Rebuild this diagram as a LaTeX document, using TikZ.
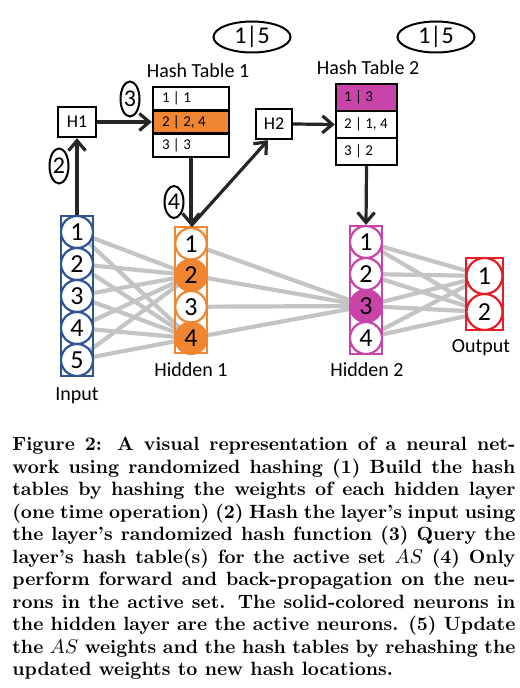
\documentclass[tikz,border=0pt]{standalone}
\usepackage{fontspec}
\newfontfamily\calib{Carlito}
\usetikzlibrary{arrows.meta,shapes.geometric}
\pgfdeclarelayer{bg}\pgfsetlayers{bg,main}
\definecolor{inblue}{RGB}{47,84,150}
\definecolor{hor}{RGB}{240,134,50}
\definecolor{hmag}{RGB}{200,68,168}
\definecolor{ored}{RGB}{232,28,36}
\definecolor{wgray}{RGB}{196,196,196}
\newcommand\capline[1]{\hbox to 251.5pt{#1}}
\newcommand\rowtextA[1]{\makebox[29pt][l]{#1}}
\newcommand\rowtextB[1]{\makebox[22.5pt][l]{#1}}
\begin{document}
\begin{tikzpicture}[x=0.5pt,y=-0.5pt,
  neuron/.style={circle,draw=#1,line width=1.1pt,fill=white,inner sep=0pt,
    font=\calib\fontsize{13}{13}\selectfont},
  layerbox/.style={draw=#1,line width=1.1pt,inner sep=0pt,minimum width=16pt},
  wline/.style={draw=wgray,line width=2.1pt},
  arr/.style={draw=black!85,line width=1.6pt,-{Straight Barb[length=5pt,width=8.5pt]}},
  hashbox/.style={draw,line width=1.2pt,inner sep=0pt,minimum width=19pt,minimum height=15pt,
    font=\calib\fontsize{9}{9}\selectfont},
  row/.style={draw,line width=1.2pt,inner ysep=0pt,
    font=\calib\fontsize{7.5}{7.5}\selectfont},
  rowA/.style={row,inner xsep=4.5pt,minimum height=11.67pt},
  rowB/.style={row,inner xsep=4pt,minimum height=13.5pt},
  stepoval/.style={ellipse,draw,line width=1pt,inner sep=0pt,minimum width=9.5pt,minimum height=17.5pt,
    font=\calib\fontsize{12}{12}\selectfont},
  topoval/.style={ellipse,draw,line width=1pt,inner sep=0pt,minimum width=38.5pt,minimum height=15.5pt,
    font=\calib\fontsize{12}{12}\selectfont},
  lbl/.style={anchor=base,inner sep=0pt,font=\calib\fontsize{10}{10}\selectfont}]
\useasboundingbox (0,0) rectangle (519,688);

% layer boxes
\node[layerbox=inblue,minimum height=80pt] (inbox) at (77,296) {};
\node[layerbox=hor,minimum height=63pt] (h1box) at (191,290) {};
\node[layerbox=hmag,minimum height=64pt] (h2box) at (366,290) {};
\node[layerbox=ored,minimum width=18.5pt,minimum height=36pt] (obox) at (484.5,294) {};

% neurons
\foreach \i/\y in {1/232,2/264,3/296,4/328,5/360}
  \node[neuron=inblue,minimum size=16pt] (i\i) at (77,\y) {\i};
\node[neuron=hor,minimum size=15.75pt] (a1) at (191,243.75) {1};
\node[neuron=hor,fill=hor,minimum size=15.75pt] (a2) at (191,275.25) {2};
\node[neuron=hor,minimum size=15.75pt] (a3) at (191,306.75) {3};
\node[neuron=hor,fill=hor,minimum size=15.75pt] (a4) at (191,338.25) {4};
\node[neuron=hmag,minimum size=16pt] (b1) at (366,242) {1};
\node[neuron=hmag,minimum size=16pt] (b2) at (366,274) {2};
\node[neuron=hmag,fill=hmag,minimum size=16pt] (b3) at (366,306) {3};
\node[neuron=hmag,minimum size=16pt] (b4) at (366,338) {4};
\node[neuron=ored,minimum size=18pt] (o1) at (484.5,276) {1};
\node[neuron=ored,minimum size=18pt] (o2) at (484.5,312) {2};

% weights
\begin{pgfonlayer}{bg}
\foreach \i in {1,...,5}
  \foreach \j in {2,4}
    \draw[wline] (i\i.center) -- (a\j.center);
\foreach \i in {1,...,4}
  \draw[wline] (a\i.center) -- (b3.center);
\foreach \i in {1,...,4}
  \foreach \j in {1,2}
    \draw[wline] (b\i.center) -- (o\j.center);
\end{pgfonlayer}

% labels
\node[lbl] (linput) at (77,400) {Input};
\node[lbl] (lh1) at (191,376) {Hidden 1};
\node[lbl] (lh2) at (367,376) {Hidden 2};
\node[lbl] (lout) at (481,352) {Output};

% hash functions
\node[hashbox] (H1) at (77,122) {H1};
\node[hashbox,minimum width=18pt] (H2) at (274,124) {H2};

% hash tables
\node[lbl] (ht1) at (198,78) {Hash Table 1};
\node[rowA] (t1r1) at (191,98.67) {\rowtextA{1 | 1}};
\node[rowA,fill=hor] (t1r2) at (191,122) {\rowtextA{2 | 2, 4}};
\node[rowA] (t1r3) at (191,145.33) {\rowtextA{3 | 3}};
\node[lbl] (ht2) at (368,75) {Hash Table 2};
\node[rowB,fill=hmag] (t2r1) at (366.5,97.5) {\rowtextB{1 | 3}};
\node[rowB] (t2r2) at (366.5,124.5) {\rowtextB{2 | 1, 4}};
\node[rowB] (t2r3) at (366.5,151.5) {\rowtextB{3 | 2}};

% ovals
\node[topoval] (ov1) at (252,37) {1|5};
\node[topoval] (ov2) at (436,37) {1|5};
\node[stepoval] (s2) at (59,166) {2};
\node[stepoval] (s3) at (130,99) {3};
\node[stepoval,minimum height=16pt] (s4) at (174,202) {4};

% arrows
\draw[arr] (inbox.north) -- (H1.south);
\draw[arr] (H1.east) -- (t1r2.west);
\draw[arr] (t1r3.south) -- (h1box.north);
\draw[arr] (h1box.north) -- ([xshift=-3pt]H2.south);
\draw[arr] (H2.east) -- (t2r2.west);
\draw[arr] (t2r3.south) -- (h2box.north);

% caption
\node[anchor=north west,inner sep=0pt] (cap) at (12,437) {\begin{minipage}{251.5pt}\bfseries\fontsize{9.6}{11.25}\selectfont
\capline{Figure 2: A visual representation of a neural net-}
\capline{work using randomized hashing (1) Build the hash}
\capline{tables by hashing the weights of each hidden layer}
\capline{(one time operation) (2) Hash the layer's input using}
\capline{the layer's randomized hash function (3) Query the}
\capline{layer's hash table(s) for the active set $AS$ (4) Only}
\capline{perform forward and back-propagation on the neu-}
\capline{rons in the active set. The solid-colored neurons in}
\capline{the hidden layer are the active neurons. (5) Update}
\capline{the $AS$ weights and the hash tables by rehashing the}
\capline{updated weights to new hash locations.\hfil}
\end{minipage}};
\end{tikzpicture}
\end{document}
